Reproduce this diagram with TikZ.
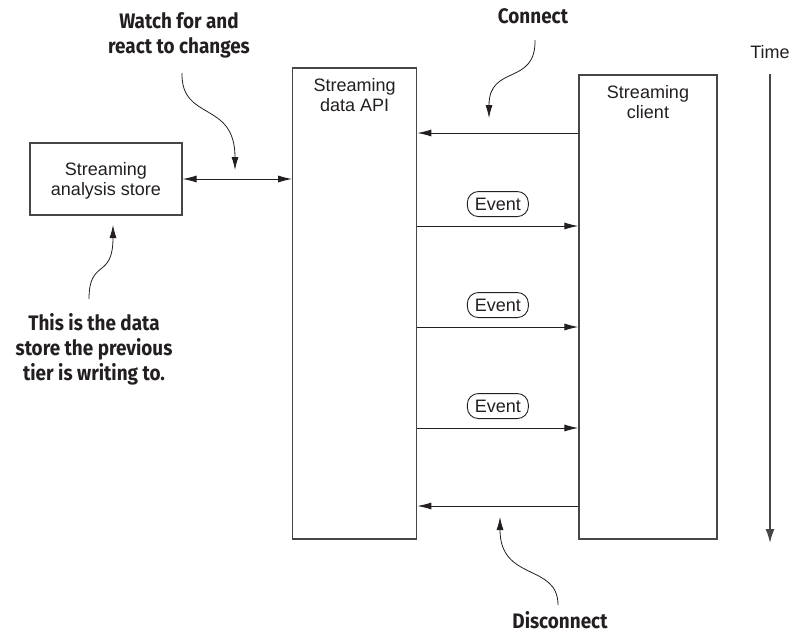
\documentclass[tikz,border=0pt]{standalone}
\usepackage{fontspec}
\setmainfont{Liberation Sans}
\newfontfamily\notefont{Fira Sans}[FakeStretch=0.9]
\usepackage{tikz}
\usetikzlibrary{arrows.meta, positioning, calc}
\definecolor{ink}{RGB}{35,31,32}
\definecolor{frame}{RGB}{70,70,70}

\tikzset{
  box/.style={draw=frame, line width=1.2pt, fill=white, inner sep=0pt},
  lbl/.style={font=\fontsize{18}{20}\selectfont, align=center, text=ink, inner sep=0pt},
  note/.style={font=\notefont\bfseries\fontsize{21}{25}\selectfont, align=center, text=ink, inner sep=0pt},
  evt/.style={draw=ink, line width=0.9pt, rounded corners=11pt, minimum width=61, minimum height=25,
    inner sep=0pt, font=\fontsize{18}{20}\selectfont, text=ink},
  msg/.style={draw=ink, line width=0.9pt, -{Latex[length=14pt,width=7pt]}},
  squig/.style={draw=ink, line width=0.8pt, -{Latex[length=13pt,width=7pt]}}
}

\begin{document}
\begin{tikzpicture}[x=1pt, y=-1pt]
  \useasboundingbox (0,0) rectangle (790,634);
  % boxes
  \node[box, minimum width=152, minimum height=72] (store) at (106,179) {};
  \node[lbl] (storetxt) at (106,181) {Streaming\\analysis store};
  \node[box, minimum width=124, minimum height=471] (api) at (354.7,303.5) {};
  \node[lbl, below=11pt of api.north] (apitxt) {Streaming\\data API};
  \node[box, minimum width=138, minimum height=464] (client) at (648,307) {};
  \node[lbl, below=11pt of client.north] (clienttxt) {Streaming\\client};
  % message rows
  \coordinate (yconn) at (0,133);
  \coordinate (yev1) at (0,226);
  \coordinate (yev2) at (0,327);
  \coordinate (yev3) at (0,428);
  \coordinate (ydisc) at (0,506);
  \draw[msg] (client.west |- yconn) -- (api.east |- yconn);
  \draw[msg] (api.east |- yev1) -- node[evt, above=9pt] (ev1) {Event} (client.west |- yev1);
  \draw[msg] (api.east |- yev2) -- node[evt, above=9pt] (ev2) {Event} (client.west |- yev2);
  \draw[msg] (api.east |- yev3) -- node[evt, above=9pt] (ev3) {Event} (client.west |- yev3);
  \draw[msg] (client.west |- ydisc) -- (api.east |- ydisc);
  \draw[msg, {Latex[length=14pt,width=7pt]}-{Latex[length=14pt,width=7pt]}] (store.east) -- (api.west |- store.east);
  % time axis
  \node[lbl] (time) at (770,52) {Time};
  \coordinate (tend) at (770,543);
  \draw[draw=frame, line width=1.5pt, -{Latex[length=14pt,width=9pt]}] ([yshift=-15pt]time.south) -- (tend);
  % notes
  \node[note] (watch) at (179,35) {Watch for and\\react to changes};
  \coordinate (wtip) at (235,170);
  \draw[squig] (182,73) .. controls (181,122) and (235,100) .. (wtip);
  \node[note] (prev) at (94,349) {This is the data\\store the previous\\tier is writing to.};
  \coordinate (ptip) at (113,225);
  \draw[squig] (89,299) .. controls (89,258) and (113,280) .. (ptip);
  \node[note] (conn) at (533,16) {Connect};
  \coordinate (ctip) at (489,118);
  \draw[squig] (535,40) .. controls (536,86) and (489,64) .. (ctip);
  \node[note] (disc) at (560,620) {Disconnect};
  \coordinate (dtip) at (500,517);
  \draw[squig] (558,605) .. controls (558,563) and (500,582) .. (dtip);
\end{tikzpicture}
\end{document}
